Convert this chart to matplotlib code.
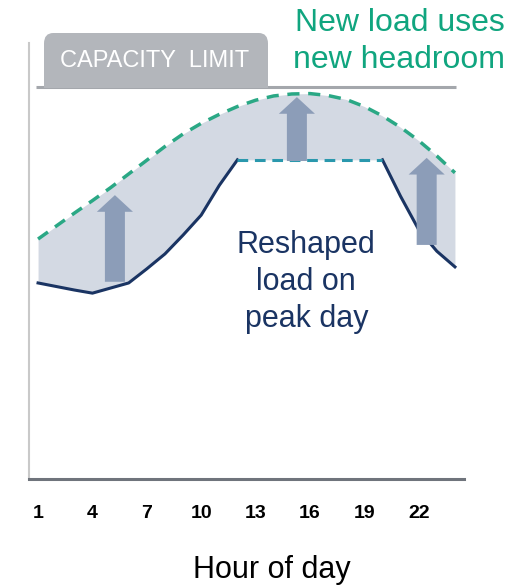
import matplotlib.pyplot as plt
from matplotlib.patches import FancyBboxPatch, Rectangle

plt.rcParams['font.family'] = ['Liberation Sans', 'DejaVu Sans']

# Hourly profiles (capacity limit = 100)
hours = list(range(1, 25))
new_headroom = [61.2, 64.5, 67.8, 71.0, 74.3, 77.8, 81.3, 84.8, 88.0, 90.7, 93.0, 95.0,
                96.6, 97.7, 98.2, 98.3, 97.8, 96.8, 95.0, 92.6, 89.7, 86.3, 82.4, 78.1]
reshaped_load = [50.0, 49.1, 48.2, 47.4, 48.7, 50.0, 53.6, 57.4, 62.2, 67.3, 74.9, 81.4,
                 81.4, 81.4, 81.4, 81.4, 81.4, 81.4, 81.4, 81.4, 72.1, 63.6, 58.1, 54.1]
capacity = 100
peak_cap = 81.4
cap_start, cap_end = 12, 20

# Arrows: (hour, from, to)
arrows = [(5.24, 50.3, 72.4), (15.28, 81.1, 97.4), (22.44, 59.7, 81.9)]
tick_hours = [1, 4, 7, 10, 13, 16, 19, 22]

fig = plt.figure(figsize=(5.13, 5.85), dpi=100)
ax = fig.add_axes([0.0565, 0.1812, 0.848, 0.7453])

ax.fill_between(hours, reshaped_load, new_headroom, color='#d3d9e3', lw=0, zorder=1)

lo = hours.index(cap_start)
hi = hours.index(cap_end)
ax.plot(hours[:lo + 1], reshaped_load[:lo + 1], color='#1a3463', lw=2.2, zorder=3)
ax.plot(hours[hi:], reshaped_load[hi:], color='#1a3463', lw=2.2, zorder=3)
ax.plot([cap_start, cap_end], [peak_cap, peak_cap], color='#2a98ad', lw=2.2,
        ls=(0, (3.5, 2.2)), zorder=3)
ax.plot(hours, new_headroom, color='#2aa885', lw=2.5, ls=(0, (3.5, 2.5)), zorder=4)

ax.hlines(capacity, hours[0] - 0.1, hours[-1] + 0.05, color='#a4a7ac', lw=2.2, zorder=2)

for h, y0, y1 in arrows:
    ax.annotate('', xy=(h, y1), xytext=(h, y0),
                arrowprops=dict(arrowstyle='simple,head_width=26,head_length=12,tail_width=14.4',
                                mutation_scale=1, color='#8c9db8', lw=0,
                                shrinkA=0, shrinkB=0), zorder=5)

ax.text(15.8, 63.5, 'Reshaped\nload on\npeak day', color='#1a3463', fontsize=22,
        ha='center', va='top', linespacing=1.3)

ax.set_xlim(0.5, 24.5)
ax.set_ylim(0, 111.2)
ax.set_xticks(tick_hours)
ax.set_xticklabels([str(t) for t in tick_hours], fontsize=14, fontweight='bold')
ax.tick_params(axis='x', length=0, pad=19)
ax.set_yticks([])
ax.spines['top'].set_visible(False)
ax.spines['right'].set_visible(False)
ax.spines['left'].set_color('#c9c9c9')
ax.spines['left'].set_linewidth(1.5)
ax.spines['bottom'].set_color('#6f747c')
ax.spines['bottom'].set_linewidth(2.2)

# Capacity limit tab (rounded top only)
W, H = 513, 585
box = FancyBboxPatch((44 / W, 1 - 100 / H), 224 / W, 67 / H,
                     boxstyle='round,pad=0,rounding_size=0.018',
                     transform=fig.transFigure, facecolor='#b3b6bb', edgecolor='none')
clip = Rectangle((0, 1 - 88 / H), 1, 88 / H, transform=fig.transFigure)
box.set_clip_path(clip)
fig.patches.append(box)
fig.text(155 / W, 1 - 61 / H, 'CAPACITY  LIMIT', color='white', fontsize=17,
         ha='center', va='center')

fig.text(505 / W, 1 - 23 / H, 'New load uses', color='#10a57f', fontsize=23,
         ha='right', va='center')
fig.text(505 / W, 1 - 60 / H, 'new headroom', color='#10a57f', fontsize=23,
         ha='right', va='center')

fig.text(272 / W, 1 - 570 / H, 'Hour of day', color='black', fontsize=22,
         ha='center', va='center')

fig.savefig('out.png', dpi=100)
